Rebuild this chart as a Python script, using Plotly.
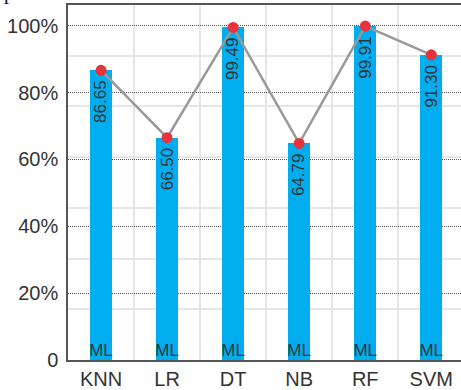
import plotly.graph_objects as go

# Classifier accuracy (%) for the six ML models
models = ["KNN", "LR", "DT", "NB", "RF", "SVM"]
accuracy = [86.65, 66.50, 99.49, 64.79, 99.91, 91.30]
group_label = "ML"

y_tickvals = [0, 20, 40, 60, 80, 100]
y_ticktext = ["0", "20%", "40%", "60%", "80%", "100%"]

BAR_BLUE = "#00AEEF"
LINE_GRAY = "#999999"
DOT_RED = "#E8323C"
TEXT = "#333333"
FONT = "Liberation Sans, Arial, sans-serif"

fig = go.Figure()

fig.add_trace(go.Bar(
    x=models, y=accuracy,
    width=0.33,
    marker=dict(color=BAR_BLUE, line=dict(width=0)),
    showlegend=False,
))

fig.add_trace(go.Scatter(
    x=models, y=accuracy,
    mode="lines+markers",
    line=dict(color=LINE_GRAY, width=2.5),
    marker=dict(color=DOT_RED, size=11),
    cliponaxis=False,
    showlegend=False,
))

# "ML" tag at the foot of every bar
fig.add_trace(go.Scatter(
    x=models, y=[0] * len(models),
    mode="text",
    text=[group_label] * len(models),
    textposition="top center",
    textfont=dict(family=FONT, size=17, color=TEXT),
    showlegend=False,
    hoverinfo="skip",
))

# faint secondary grid on a 0-105 scale
fig.add_trace(go.Scatter(
    x=[models[0]], y=[0], yaxis="y2", mode="markers",
    marker=dict(opacity=0), showlegend=False, hoverinfo="skip",
))

# rotated value labels hanging just below each bar top
value_labels = [
    dict(
        x=m, y=v, xref="x", yref="y",
        text=f"{v:.2f}", textangle=-90,
        xanchor="center", yanchor="top", yshift=-9,
        showarrow=False, borderpad=0,
        font=dict(family=FONT, size=17, color=TEXT),
    )
    for m, v in zip(models, accuracy)
]

fig.update_layout(
    width=461, height=390,
    margin=dict(l=68, r=0, t=5, b=25),
    paper_bgcolor="white",
    plot_bgcolor="white",
    font=dict(family=FONT, color=TEXT),
    bargap=0,
    xaxis=dict(
        type="category",
        range=[-0.5, 5.45],
        tickson="boundaries",
        showgrid=True, gridcolor="#E6E6E6", gridwidth=1.5,
        showline=True, linecolor="#555555", linewidth=1.5, mirror=True,
        ticks="", tickfont=dict(family=FONT, size=20, color="#333333"),
        zeroline=False,
    ),
    yaxis=dict(
        range=[0, 106.2],
        tickvals=y_tickvals, ticktext=y_ticktext,
        showgrid=True, gridcolor="#555555", gridwidth=1, griddash="1px,1px",
        showline=True, linecolor="#555555", linewidth=1.5,
        ticks="", ticklabelstandoff=4,
        tickfont=dict(family=FONT, size=20, color="#333333"),
        zeroline=False,
    ),
    yaxis2=dict(
        overlaying="y", range=[0, 105], dtick=15,
        showgrid=True, gridcolor="#E6E6E6", gridwidth=1.5,
        showticklabels=False, ticks="", zeroline=False, showline=False,
    ),
    annotations=value_labels + [dict(
        text="p", xref="paper", yref="paper",
        x=-0.165, y=1, xanchor="left", yanchor="bottom",
        showarrow=False, borderpad=0,
        font=dict(family="Liberation Serif, Times New Roman, serif", size=20, color="#111111"),
    )],
)

fig.write_html("out.html")
